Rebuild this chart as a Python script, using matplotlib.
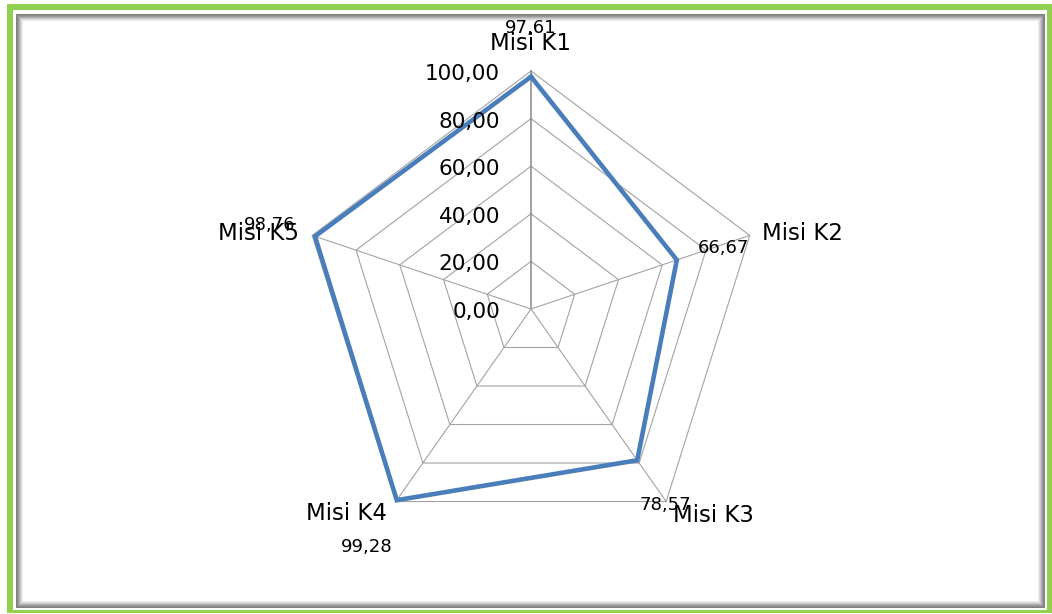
import numpy as np
import matplotlib.pyplot as plt
from matplotlib.patches import Rectangle

categories = ["Misi K1", "Misi K2", "Misi K3", "Misi K4", "Misi K5"]
values = [97.61, 66.67, 78.57, 99.28, 98.76]
rings = [0, 20, 40, 60, 80, 100]

# label placement, pixel offsets from the outer ring vertex of each spoke
cat_offsets = [(0, 21, "center"), (12, -5, "left"), (7, -20, "left"),
               (-9, -18, "right"), (-13, -5, "right")]
val_offsets = [(0, 38, "center"), (-1, -18, "right"), (-1, -8, "center"),
               (-29, -50, "center"), (-43, 5, "center")]

W, H = 1052, 614


def fmt(v):
    return f"{v:.2f}".replace(".", ",")


def box(x0, y0, x1, y1):
    # pixel box (top-left origin) -> figure fraction rect
    return (x0 / W, 1 - y1 / H, (x1 - x0) / W, (y1 - y0) / H)


def rect(x0, y0, x1, y1, color):
    l, b, w, h = box(x0, y0, x1, y1)
    fig.add_artist(Rectangle((l, b), w, h, transform=fig.transFigure,
                             facecolor=color, edgecolor="none", zorder=0))


fig = plt.figure(figsize=(W / 100, H / 100), dpi=100)
fig.patch.set_facecolor("white")

# green outer border, then a shaded grey inner frame
rect(7, 4, 1052, 613, "#92d050")
rect(13, 10, 1047, 610, "white")
greys = ["#7f7f7f", "#8c8c8c", "#9a9a9a", "#b0b0b0", "#c8c8c8", "#dcdcdc", "#ececec"]
for i, g in enumerate(greys):
    rect(16 + i, 14 + i, 1045 - i, 608 - i, g)
rect(23, 21, 1038, 601, "white")

ax = fig.add_axes(box(301, 71, 761, 547), projection="polar")
ax.set_aspect("auto")
ax.set_theta_offset(np.pi / 2)
ax.set_theta_direction(-1)
ax.set_ylim(0, 100)
ax.grid(False)
ax.spines["polar"].set_visible(False)
ax.set_xticks([])
ax.set_yticks([])
ax.patch.set_alpha(0)

theta = np.arange(len(categories)) * 2 * np.pi / len(categories)
tc = np.append(theta, theta[0])

for r in rings[1:]:
    ax.plot(tc, [r] * len(tc), color="#a3a3a3", lw=0.8, clip_on=False, zorder=1)
for i, t in enumerate(theta):
    ax.plot([t, t], [0, 100], color="#868686" if i == 0 else "#a3a3a3",
            lw=1.1 if i == 0 else 0.8, clip_on=False, zorder=1)

ax.plot(tc, values + [values[0]], color="#4a7ebb", lw=3.3, clip_on=False,
        solid_joinstyle="miter", zorder=3)

for r in rings:
    ax.annotate(fmt(r), xy=(0, r), xytext=(-31, -9), textcoords="offset pixels",
                ha="right", va="baseline", fontsize=15.5, color="black",
                annotation_clip=False)

for t, name, (dx, dy, ha) in zip(theta, categories, cat_offsets):
    ax.annotate(name, xy=(t, 100), xytext=(dx, dy), textcoords="offset pixels",
                ha=ha, va="baseline", fontsize=16.5, color="black",
                annotation_clip=False)

for t, v, (dx, dy, ha) in zip(theta, values, val_offsets):
    ax.annotate(fmt(v), xy=(t, 100), xytext=(dx, dy), textcoords="offset pixels",
                ha=ha, va="baseline", fontsize=13, color="black",
                annotation_clip=False, zorder=4)

fig.savefig("out.png", dpi=100)
